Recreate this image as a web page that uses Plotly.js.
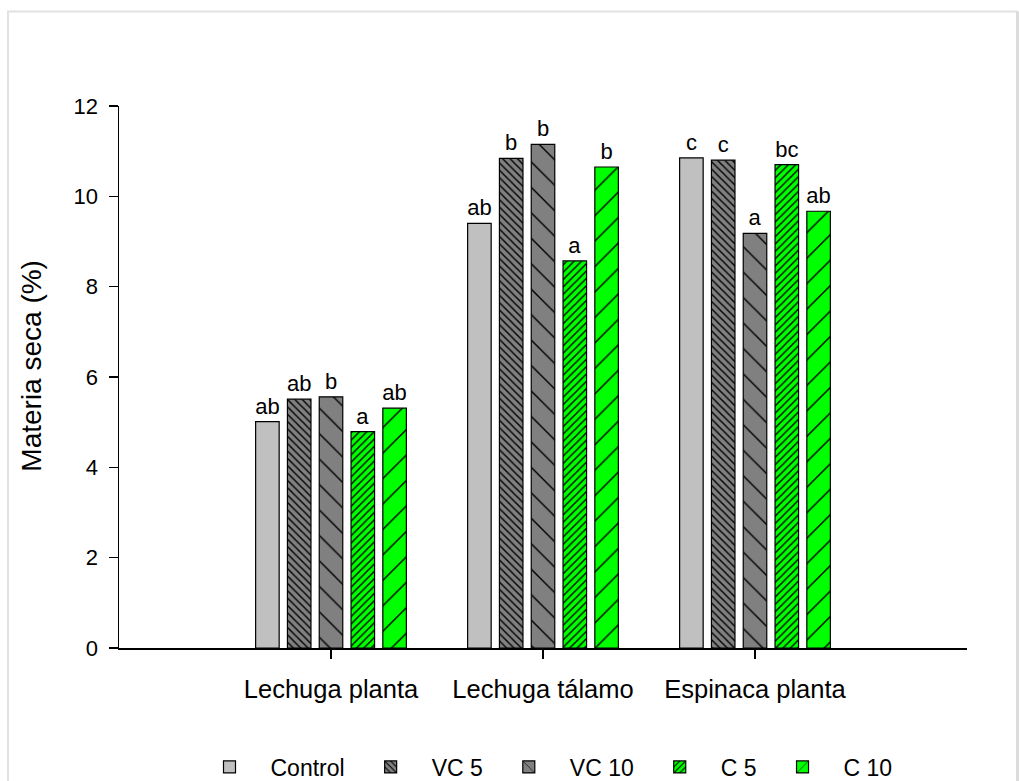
<!DOCTYPE html>
<html><head><meta charset="utf-8">
<script src="https://cdn.plot.ly/plotly-3.0.1.min.js"></script>
<style>html,body{margin:0;padding:0;background:#fff;} #chart{width:1019px;height:781px;}</style>
</head><body><div id="chart"></div>
<script>
const categories = ['Lechuga planta', 'Lechuga tálamo', 'Espinaca planta'];
const seriesNames = ['Control', 'VC 5', 'VC 10', 'C 5', 'C 10'];
const control = [5.01, 9.40, 10.85];
const vc5 = [5.51, 10.84, 10.80];
const vc10 = [5.56, 11.15, 9.18];
const c5 = [4.79, 8.57, 10.70];
const c10 = [5.31, 10.65, 9.67];
const lettersControl = ['ab', 'ab', 'c'];
const lettersVC5 = ['ab', 'b', 'c'];
const lettersVC10 = ['b', 'b', 'a'];
const lettersC5 = ['a', 'a', 'bc'];
const lettersC10 = ['ab', 'b', 'ab'];
const yTickVals = [0, 2, 4, 6, 8, 10, 12];
const yTitle = 'Materia seca (%)';

const values = [control, vc5, vc10, c5, c10];
const letters = [lettersControl, lettersVC5, lettersVC10, lettersC5, lettersC10];
const styles = [
  {color: '#c0c0c0', shape: '', size: 8},
  {color: '#808080', shape: '\\', size: 5.2},
  {color: '#808080', shape: '\\', size: 18},
  {color: '#00ff00', shape: '/', size: 5.2},
  {color: '#00ff00', shape: '/', size: 18}
];
const FONT = 'Liberation Sans, Arial, sans-serif';

const traces = seriesNames.map((name, i) => ({
  type: 'bar',
  name: name,
  x: categories,
  y: values[i],
  text: letters[i],
  textposition: 'outside',
  constraintext: 'none',
  cliponaxis: false,
  textfont: {family: FONT, size: 22, color: '#000'},
  marker: {
    color: styles[i].color,
    line: {color: '#000', width: 1.2},
    pattern: {
      shape: styles[i].shape,
      size: styles[i].size,
      solidity: styles[i].shape ? 1.4 / styles[i].size : 0.3,
      fgcolor: '#000',
      fgopacity: 1,
      bgcolor: styles[i].color,
      fillmode: 'overlay'
    }
  },
  hoverinfo: 'skip'
}));

const layout = {
  width: 1019, height: 781,
  margin: {l: 119, r: 52, t: 106, b: 133, autoexpand: false},
  paper_bgcolor: '#fff', plot_bgcolor: '#fff',
  font: {family: FONT, color: '#000'},
  barmode: 'group',
  bargap: 0.25,
  bargroupgap: 0.26,
  showlegend: true,
  legend: {
    orientation: 'h', x: 0.5, xanchor: 'center', y: -0.2196, yanchor: 'middle',
    font: {family: FONT, size: 23, color: '#000'},
    itemwidth: 72, traceorder: 'normal'
  },
  xaxis: {
    type: 'category', range: [-1, 3],
    showline: true, linecolor: '#000', linewidth: 1.5,
    ticks: 'outside', ticklen: 9, tickwidth: 1.5, tickcolor: '#000',
    tickfont: {family: FONT, size: 25.5, color: '#000'},
    ticklabelstandoff: 9,
    showgrid: false, zeroline: false, fixedrange: true
  },
  yaxis: {
    range: [0, 12], tickvals: yTickVals,
    showline: true, linecolor: '#000', linewidth: 1.5,
    ticks: 'outside', ticklen: 9, tickwidth: 1.5, tickcolor: '#000',
    tickfont: {family: FONT, size: 22, color: '#000'},
    ticklabelstandoff: 6,
    title: {text: ''},
    showgrid: false, zeroline: false, fixedrange: true
  },
  annotations: [
    {text: yTitle, xref: 'paper', yref: 'paper', x: -0.1032, y: 0.5218,
     xanchor: 'center', yanchor: 'middle', textangle: -90, showarrow: false,
     font: {family: FONT, size: 28, color: '#000'}}
  ],
  shapes: [
    {type: 'rect', xref: 'paper', yref: 'paper', x0: -0.1309, x1: 1.0590, y0: -0.3, y1: 1.1745,
     line: {color: '#e2e2e2', width: 2}, layer: 'below'},
    {type: 'line', xref: 'paper', yref: 'paper', x0: 1.0601, x1: 1.0601, y0: -0.3, y1: 1.1745,
     line: {color: '#dcdcdc', width: 4}, layer: 'below'}
  ]
};

Plotly.newPlot('chart', traces, layout, {displayModeBar: false, staticPlot: true});
</script>
</body></html>
